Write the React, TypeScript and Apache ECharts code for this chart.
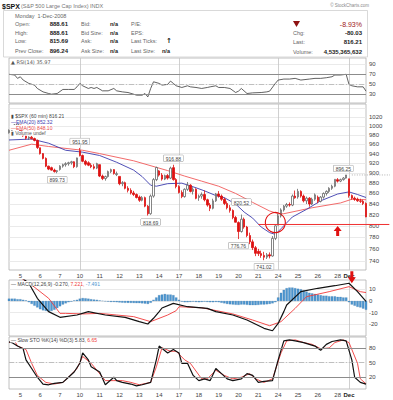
import React, { useEffect, useRef } from 'react';
import * as echarts from 'echarts';

const FONT = '"Liberation Sans", Arial, "DejaVu Sans", sans-serif';

// ---- x axis: 60-minute bars, 4 Nov 2008 (last hours) to 1 Dec 2008 ----
const dayLabels = ['5', '6', '7', '10', '11', '12', '13', '14', '17', '18', '19', '20', '21', '24', '25', '26', '28', 'Dec'];
const dayStarts = [4, 11, 18, 25, 32, 39, 46, 53, 60, 67, 74, 81, 88, 95, 102, 109, 116, 120];
const weekStarts = [25, 60, 95, 120];

// ---- price bars: [open, high, low, close] ----
const candles = [
  // Nov 4
  [985, 992, 983, 990], [990, 998, 988, 996], [996, 1004, 994, 1002], [1002, 1007.51, 1000, 1005.75],
  // Nov 5
  [1001.84, 1001.84, 985, 988], [988, 990, 976, 978], [978, 980, 970, 973], [973, 977, 969, 975], [975, 978, 970, 972], [972, 974, 966, 968], [968, 970, 949.86, 952.77],
  // Nov 6
  [952.4, 952.4, 938, 940], [940, 941, 928, 930], [930, 932, 912, 914], [914, 915, 906, 908], [911, 913, 905, 906], [906, 909, 901, 903], [903, 906, 899.73, 904.88],
  // Nov 7
  [907.44, 916, 905, 914], [914, 919, 911, 917], [917, 922, 913, 919], [919, 923, 915, 921], [921, 925, 917, 923], [923, 924, 910, 913], [913, 931.46, 911, 930.99],
  // Nov 10
  [946, 951.95, 934, 936], [936, 938, 922, 924], [924, 927, 915, 918], [921, 924, 914, 916], [916, 920, 910, 913], [913, 918, 907.19, 910], [910, 921, 908, 919.21],
  // Nov 11
  [917.15, 917.15, 892, 894], [894, 897, 886, 889], [889, 895, 884.9, 893], [893, 905, 891, 903], [903, 909, 900, 907], [907, 908, 897, 899], [897, 903, 894, 898.95],
  // Nov 12
  [893.39, 893.39, 876, 879], [879, 884, 874, 881], [881, 883, 868, 870], [870, 874, 862, 866], [866, 870, 858, 861], [861, 865, 855, 858], [858, 860, 850.48, 852.3],
  // Nov 13
  [853.13, 856, 844, 847], [847, 855, 845, 852], [852, 854, 834, 836], [836, 838, 818.69, 822], [822, 858, 820, 855], [855, 890, 852, 887], [887, 913.01, 884, 911.29],
  // Nov 14
  [904.36, 906, 893, 896], [896, 900, 885, 888], [888, 897, 886, 895], [895, 898, 887, 890], [890, 913, 888, 910], [911, 916.88, 885, 887], [887, 890, 869.88, 873.29],
  // Nov 17
  [873.23, 876, 860, 862], [862, 866, 851, 854], [854, 870, 852, 868], [868, 882.29, 865, 876], [876, 878, 862, 864], [864, 872, 858, 868], [868, 870, 848.98, 850.75],
  // Nov 18
  [852.34, 858, 846, 855], [855, 862, 850, 858], [858, 865.9, 845, 848], [848, 850, 835, 838], [838, 842, 826.84, 832], [832, 850, 830, 846], [846, 861, 844, 859.12],
  // Nov 19
  [859.03, 864.57, 852, 855], [855, 858, 846, 849], [849, 852, 838, 841], [841, 845, 830, 833], [833, 838, 824, 828], [828, 830, 812, 815], [815, 818, 806.18, 806.58],
  // Nov 20
  [805.87, 808, 776.76, 790], [790, 820.52, 788, 812], [812, 815, 795, 798], [798, 800, 780, 783], [783, 788, 768, 772], [772, 776, 758, 762], [762, 765, 747.78, 752.44],
  // Nov 21
  [755.84, 760, 748, 752], [752, 757, 745, 749], [749, 755, 741.02, 746], [746, 753, 743, 750], [750, 754, 744, 748], [748, 782, 747, 778], [778, 801.2, 775, 800.03],
  // Nov 24
  [801.2, 822, 801.2, 818], [818, 832, 815, 829], [829, 838, 826, 836], [836, 842, 833, 839], [839, 843, 835, 838], [838, 858, 836, 855], [855, 865.6, 850, 851.81],
  // Nov 25
  [853.4, 868.94, 850, 864], [864, 866, 852, 855], [855, 858, 843, 846], [846, 854, 840, 851], [851, 853, 834.99, 840], [840, 852, 838, 849], [849, 860, 846, 857.39],
  // Nov 26
  [852.9, 856, 841.37, 845], [845, 855, 843, 853], [853, 862, 850, 860], [860, 866, 856, 864], [864, 872, 861, 870], [870, 877, 867, 874], [874, 887.68, 872, 887.68],
  // Nov 28
  [886.89, 890, 881.21, 884], [884, 889, 882, 887], [887, 892, 885, 890], [890, 896.25, 889, 896.24],
  // Dec 1
  [888.61, 888.61, 852, 856], [856, 858, 848, 851], [851, 854, 846, 849], [849, 852, 844, 846], [846, 850, 842, 845], [845, 848, 838, 841], [841, 843, 815.69, 816.21],
];

// ---- moving averages [barIndex, value] ----
const ema20Points = [[0, 969], [8, 971], [14, 962], [20, 947], [26, 943], [32, 936], [38, 922], [44, 906], [47, 893], [50, 876], [52, 874], [56, 879], [61, 880], [66, 871], [69, 865], [73, 856], [76, 852], [80, 840], [83, 825], [86, 814], [89, 798], [92, 788], [94, 785], [96, 795], [100, 816], [105, 830], [110, 846], [116, 859], [120, 863], [123, 858], [126, 852.32]];
const ema50Points = [[0, 947], [8, 960], [14, 955], [26, 947], [32, 940], [44, 925], [56, 905], [62, 894], [68, 884], [74, 874], [80, 860], [86, 843], [92, 827], [95, 822], [97, 822], [107, 833], [117, 842], [121, 849], [126, 848.1]];

// ---- price annotations ----
const noteIdx = [17, 25, 50, 58, 82, 81, 90, 118];
const noteVal = [899.73, 951.95, 818.69, 916.88, 820.52, 776.76, 741.02, 896.25];
const noteSide = ['bottom', 'top', 'bottom', 'top', 'top', 'bottom', 'bottom', 'top'];

// ---- RSI(14) ----
const rsiPoints = [[0, 70], [2, 68.6], [3, 61.8], [4, 65], [5, 58.4], [7, 51.6], [9, 48.2], [10, 41.4], [12, 34.5], [14, 31.2], [15, 29.8], [17, 31.2], [19, 39.4], [21, 39.4], [23, 39.4], [24, 44.7], [25, 51.6], [26, 46.8], [28, 41.4], [29, 43.4], [30, 41.4], [31, 43.4], [33, 36.6], [35, 36.6], [37, 41.4], [38, 36.6], [40, 34.5], [42, 33.2], [44, 29.8], [45, 27.8], [47, 27.8], [48, 31.2], [49, 24.3], [50, 41.4], [51, 54.9], [53, 51.6], [54, 48.2], [56, 49.6], [57, 56.3], [58, 51.6], [59, 46.8], [61, 43.4], [63, 46.8], [64, 44.7], [66, 43.4], [68, 41.4], [70, 43.4], [71, 44.7], [73, 46.8], [74, 43.4], [76, 43.4], [78, 41.4], [80, 33.2], [81, 36], [82, 41.4], [84, 31.2], [86, 32.5], [89, 33.2], [91, 34.5], [92, 36], [94, 51.6], [95, 58.4], [97, 60.4], [99, 60.4], [101, 61.8], [103, 58.4], [106, 60.4], [108, 61.8], [110, 61.8], [112, 63.1], [114, 65.1], [115, 68.6], [117, 68.6], [119, 70], [120, 49.6], [121, 46.8], [123, 44.7], [125, 44.7], [126, 35.97]];

// ---- MACD(12,26,9) ----
const macdPoints = [[0, 24], [4, 21], [7, 15.2], [10, 2.3], [14, -9.1], [18, -14], [24, -12], [28, -9.1], [34, -12], [41, -14], [46, -17.7], [49, -19.7], [51, -14.8], [53, -9.1], [54, -6], [58, -2], [63, -4.9], [70, -6.3], [73, -9.1], [79, -12], [84, -16.3], [90, -23.4], [93, -25.5], [95, -19.2], [97, -9.1], [98, -3.4], [103, 8], [109, 10.9], [115, 13.1], [120, 15.2], [123, 8], [126, -0.27]];
const signalPoints = [[0, 22], [4, 20], [8, 13.7], [14, 2.3], [18, -10.6], [20, -10.6], [26, -11.1], [32, -10.6], [38, -12], [44, -13.4], [50, -17.7], [56, -12], [59, -8.3], [60, -4.9], [68, -5.8], [72, -7.7], [79, -11.1], [86, -16.3], [92, -21.2], [96, -17.7], [101, -6.3], [105, 3.7], [113, 8], [120, 12.3], [124, 8], [126, 7.221]];
const histValues = [
  2, 2, 2, 1.5, 1.5, 1, 0.5, -1,
  -2.5, -4, -5.5, -7, -8, -8.5, -9, -8.5, -7.5, -6, -4.5, -3, -2, -1, -0.5,
  0.5, 1, 2, 2.5, 2.3, 2, 1.5, 1.2, 1, 0.5, 0.2,
  -0.3, -0.5, -0.8, -0.8, -1, -1.2, -1.4, -1.5, -1.5, -1.6, -1.7, -1.8, -1.8, -2, -2.2, -2.5, -1.5,
  1, 3, 5, 5.5, 6, 5.5, 5.5, 5, 3,
  1, -0.5, -1, -1, -0.8, -0.5, -0.8, -1, -0.8, -0.5, -0.8, -1, -1, -0.8, -1, -1.5, -2, -2.5, -2.8, -3, -3.2,
  -3.3, -3, -3, -3.2, -3.5, -3.5, -3.5, -3.3, -3, -3, -2.8, -2.5, -2, -1,
  3, 7, 9.5, 11, 11.5, 11.5, 11, 10.5, 10, 9, 8, 7, 6.5, 6, 5.5, 5, 4.5, 4.5, 4, 4, 4, 3.5, 3.5, 3, 3,
  -1, -3, -4, -5, -5.5, -6.5, -7.491,
];

// ---- Slow Stochastic %K(14) %D(3) ----
const stoKPoints = [[0, 91.9], [1, 90.6], [3, 83.5], [5, 78], [6, 55.4], [8, 37.8], [10, 20], [12, 6.1], [14, 4.6], [16, 7.4], [19, 9.5], [21, 20], [23, 30.6], [25, 48.4], [26, 69.5], [28, 55.4], [29, 41.2], [32, 30.6], [34, 4.6], [37, 20], [38, 13.1], [40, 9.5], [43, 6.1], [45, 2.5], [47, 4.6], [50, 9.5], [52, 55.4], [53, 83.5], [56, 69.5], [58, 76.5], [60, 69.5], [61, 48.4], [63, 48.4], [65, 23.7], [67, 13.1], [69, 16.7], [71, 13.1], [73, 37.8], [75, 27.3], [77, 16.7], [79, 13.1], [82, 16.7], [84, 27.3], [86, 23.7], [88, 9.5], [90, 11.6], [93, 13.1], [95, 55.4], [97, 94], [99, 96.1], [101, 94], [104, 90.6], [106, 87], [108, 83.5], [110, 75], [112, 87], [114, 92.8], [117, 96.1], [119, 94], [121, 55.4], [122, 20], [124, 9.5], [126, 5.83]];
const stoDPoints = [[0, 90.6], [2, 94], [3, 83.5], [6, 76.5], [8, 48.4], [10, 23.7], [13, 9.5], [16, 6.1], [19, 9.5], [21, 20], [24, 37.8], [26, 62.3], [29, 48.4], [31, 34.2], [34, 13.1], [37, 13.1], [40, 13.1], [43, 9.5], [46, 4.6], [50, 9.5], [52, 41.2], [54, 80], [57, 72.9], [59, 72.9], [62, 55.4], [64, 48.4], [68, 16.7], [70, 16.7], [73, 34.2], [76, 23.7], [79, 16.7], [82, 20], [85, 27.3], [87, 16.7], [90, 9.5], [93, 16.7], [96, 69.5], [98, 94], [101, 96.1], [104, 90.6], [107, 87], [110, 78], [113, 79.7], [115, 90.6], [118, 96.1], [120, 90.6], [123, 48.4], [124, 16.7], [126, 6.65]];

// ---- axis ticks ----
const priceTicks = [740, 760, 780, 800, 820, 840, 860, 880, 900, 920, 940, 960, 980, 1000, 1020, 1040];
const rsiTicks = [30, 50, 70, 90];
const macdTicks = [-20, -10, 0, 10];
const stoTicks = [20, 50, 80];

const BAR_COUNT = candles.length;
const cats = Array.from({ length: BAR_COUNT }, (_, i) => String(i));
const ln = Math.log;

function xAxisFor(g: number, showLabels: boolean) {
  return {
    type: 'category', gridIndex: g, data: cats, boundaryGap: false,
    axisLine: { show: false }, axisTick: { show: false },
    axisLabel: {
      show: showLabels,
      interval: (idx: number) => dayStarts.includes(idx),
      formatter: (v: string) => {
        const k = dayStarts.indexOf(Number(v));
        if (k < 0) return '';
        const s = dayLabels[k];
        return s === 'Dec' ? '{b|Dec}' : s;
      },
      fontSize: 6, color: '#444', margin: 3, fontFamily: FONT,
      rich: { b: { fontWeight: 'bold', fontSize: 6, color: '#222', fontFamily: FONT } },
    },
    splitLine: { show: true, interval: (idx: number) => weekStarts.includes(idx), lineStyle: { color: '#c4c4c4', width: 0.8 } },
  };
}

function yAxisFor(g: number, min: number, max: number, ticks: number[], fmt?: (v: number) => string) {
  return {
    type: 'value', gridIndex: g, position: 'right', min, max, scale: true,
    axisLine: { show: false },
    axisTick: { show: false, customValues: ticks },
    axisLabel: { customValues: ticks, fontSize: 6, color: '#444', margin: 3, fontFamily: FONT, formatter: fmt },
    splitLine: { show: true, lineStyle: { color: '#e4e4e4', width: 0.8 } },
  };
}

function buildOption() {
  const gridBase = { left: 9, right: 27, show: true, borderColor: '#b0b0b0', borderWidth: 0.8, backgroundColor: '#fff' };
  const levelLines = (hi: number, mid: number, lo: number) => ({
    silent: true, symbol: ['none', 'none'], label: { show: false }, animation: false,
    data: [
      { yAxis: hi, lineStyle: { color: '#8c8c8c', width: 1, type: 'solid' } },
      { yAxis: lo, lineStyle: { color: '#8c8c8c', width: 1, type: 'solid' } },
      { yAxis: mid, lineStyle: { color: '#b4b4b4', width: 0.8, type: [5, 2, 1, 2] } },
    ],
  });
  const pts = (arr: number[][]) => arr.map(([i, v]) => [i, v]);
  return {
    animation: false,
    backgroundColor: '#fff',
    grid: [
      { ...gridBase, top: 58, height: 45 },
      { ...gridBase, top: 104, height: 166 },
      { ...gridBase, top: 280, height: 56 },
      { ...gridBase, top: 337, height: 52 },
    ],
    xAxis: [xAxisFor(0, false), xAxisFor(1, true), xAxisFor(2, false), xAxisFor(3, true)],
    yAxis: [
      yAxisFor(0, 12, 103, rsiTicks),
      yAxisFor(1, ln(725), ln(1050), priceTicks.map(ln), (v: number) => {
        const p = Math.round(Math.exp(v));
        return p === 1040 ? '' : String(p);
      }),
      yAxisFor(2, -30, 18, macdTicks),
      yAxisFor(3, -4, 102, stoTicks),
    ],
    series: [
      {
        name: 'RSI', type: 'line', xAxisIndex: 0, yAxisIndex: 0, data: pts(rsiPoints), symbol: 'none',
        lineStyle: { color: '#3a3a3a', width: 0.8 }, z: 3, markLine: levelLines(70, 50, 30),
      },
      {
        name: 'EMA50', type: 'line', xAxisIndex: 1, yAxisIndex: 1, data: ema50Points.map(([i, v]) => [i, ln(v)]),
        symbol: 'none', lineStyle: { color: '#f05a5a', width: 0.9 }, z: 2,
      },
      {
        name: 'EMA20', type: 'line', xAxisIndex: 1, yAxisIndex: 1, data: ema20Points.map(([i, v]) => [i, ln(v)]),
        symbol: 'none', lineStyle: { color: '#3c3cae', width: 0.9 }, z: 2,
      },
      {
        name: '$SPX', type: 'candlestick', xAxisIndex: 1, yAxisIndex: 1, barWidth: 2, z: 3,
        data: candles.map(([o, h, l, c]) => [ln(o), ln(c), ln(l), ln(h)]),
        itemStyle: { color: '#ffffff', color0: '#dd1010', borderColor: '#666666', borderColor0: '#dd1010', borderWidth: 0.8 },
        markPoint: {
          symbol: 'rect', symbolSize: 1, silent: true, itemStyle: { color: 'rgba(0,0,0,0)' },
          data: noteIdx.map((idx, k) => ({
            coord: [idx, ln(noteVal[k])],
            value: noteVal[k],
            label: {
              show: true, position: noteSide[k], distance: noteVal[k] === 820.52 ? 9 : 3,
              formatter: noteVal[k].toFixed(2), fontSize: 5, color: '#444', fontFamily: FONT,
              backgroundColor: '#fff', borderColor: '#9a9a9a', borderWidth: 0.5, padding: [1, 2, 0, 2],
            },
          })),
        },
      },
      {
        name: 'Hist', type: 'bar', xAxisIndex: 2, yAxisIndex: 2, data: histValues, barWidth: 2.3,
        itemStyle: { color: '#4d96d0', borderColor: '#2c6d9f', borderWidth: 0.2 }, z: 2,
      },
      {
        name: 'Signal', type: 'line', xAxisIndex: 2, yAxisIndex: 2, data: pts(signalPoints), symbol: 'none',
        lineStyle: { color: '#f03a3a', width: 0.9 }, z: 3,
      },
      {
        name: 'MACD', type: 'line', xAxisIndex: 2, yAxisIndex: 2, data: pts(macdPoints), symbol: 'none',
        lineStyle: { color: '#111', width: 1.2 }, z: 4,
      },
      {
        name: '%D', type: 'line', xAxisIndex: 3, yAxisIndex: 3, data: pts(stoDPoints), symbol: 'none',
        lineStyle: { color: '#f03a3a', width: 0.9 }, z: 3, markLine: levelLines(80, 50, 20),
      },
      {
        name: '%K', type: 'line', xAxisIndex: 3, yAxisIndex: 3, data: pts(stoKPoints), symbol: 'none',
        lineStyle: { color: '#111', width: 1.2 }, z: 4,
      },
    ],
  };
}

function txt(x: number, y: number, text: string, o: any = {}) {
  const align = o.align || 'left';
  const style: any = {
    x, y, text, fill: o.fill || '#666',
    font: `${o.bold ? 'bold ' : ''}${o.size || 6}px ${o.family || FONT}`,
    align, textAlign: align, verticalAlign: 'middle', textVerticalAlign: 'middle',
  };
  if (o.bg) { style.backgroundColor = o.bg; style.padding = [0, 1]; }
  if (o.rich) style.rich = o.rich;
  return { type: 'text', silent: true, z: 100, style };
}

function buildGraphics(chart: any) {
  const px = (g: number, i: number, v: number) => chart.convertToPixel({ gridIndex: g }, [i, v]);
  const g: any[] = [];
  // header
  g.push(txt(2, 6, '$SPX', { bold: true, size: 7, fill: '#111' }));
  g.push(txt(21, 6, '(S&P 500 Large Cap Index) INDX', { size: 5.5, fill: '#777' }));
  g.push(txt(369, 5, '© StockCharts.com', { size: 4.5, fill: '#888', align: 'right' }));
  g.push({ type: 'rect', silent: true, z: 90, shape: { x: 3.5, y: 10.5, width: 364, height: 46.5 }, style: { fill: 'none', stroke: '#cfcfcf', lineWidth: 0.8 } });
  g.push(txt(15, 15.5, 'Monday  1-Dec-2008', { size: 5.5, fill: '#666' }));
  const rows = [24.3, 32.6, 41, 50.5];
  const c1 = ['Open:', 'High:', 'Low:', 'Prev Close:'];
  const v1 = ['888.61', '888.61', '815.69', '896.24'];
  const c2 = ['Bid:', 'Bid Size:', 'Ask:', 'Ask Size:'];
  const c3 = ['P/E:', 'EPS:', 'Last Ticks:', 'Last Size:'];
  rows.forEach((y, k) => {
    g.push(txt(15, y, c1[k], { size: 5.5 }));
    g.push(txt(68, y, v1[k], { size: 6, bold: true, fill: '#222', align: 'right' }));
    g.push(txt(81, y, c2[k], { size: 5.5 }));
    g.push(txt(110, y, 'n/a', { size: 5.5, bold: true, fill: '#222' }));
    g.push(txt(131, y, c3[k], { size: 5.5 }));
  });
  g.push(txt(166, 40.5, '↑', { size: 7, bold: true, fill: '#111', family: '"DejaVu Sans", sans-serif' }));
  g.push(txt(162, 50.5, 'n/a', { size: 5.5, bold: true, fill: '#222' }));
  g.push({ type: 'polygon', silent: true, z: 100, shape: { points: [[293, 21], [300, 21], [296.5, 27]] }, style: { fill: '#8e1212' } });
  g.push(txt(362, 24.3, '-8.93%', { size: 7, fill: '#a01818', align: 'right' }));
  g.push(txt(293, 33.3, 'Chg:', { size: 5.5 }));
  g.push(txt(362, 33.3, '-80.03', { size: 6, bold: true, fill: '#222', align: 'right' }));
  g.push(txt(293, 42.3, 'Last:', { size: 5.5 }));
  g.push(txt(362, 42.3, '816.21', { size: 6, bold: true, fill: '#222', align: 'right' }));
  g.push(txt(293, 51.6, 'Volume:', { size: 5.5 }));
  g.push(txt(362, 51.6, '4,535,365,632', { size: 6, bold: true, fill: '#222', align: 'right' }));

  // panel legends
  g.push(txt(10, 61.5, '▲ RSI(14) 35.97', { size: 5, fill: '#555', family: '"DejaVu Sans", sans-serif', bg: '#fff' }));
  g.push(txt(10, 115.5, '▮ $SPX (60 min) 816.21', { size: 5, fill: '#444', bg: '#fff' }));
  g.push(txt(10, 121.5, '—EMA(20) 852.32', { size: 5, fill: '#3c3cae', bg: '#fff' }));
  g.push(txt(10, 127.5, '—EMA(50) 848.10', { size: 5, fill: '#e84848', bg: '#fff' }));
  g.push(txt(10, 133.3, '▮ Volume undef', { size: 5, fill: '#555', bg: '#fff' }));
  g.push(txt(10, 283.5, '{k|— MACD(12,26,9) -0.270,} {r|7.221,} {b|-7.491}', {
    size: 5, fill: '#444', bg: '#fff',
    rich: { k: { fill: '#444', fontSize: 5, fontFamily: FONT }, r: { fill: '#f03a3a', fontSize: 5, fontFamily: FONT }, b: { fill: '#4d96d0', fontSize: 5, fontFamily: FONT } },
  }));
  g.push(txt(10, 340, '{k|— Slow STO %K(14) %D(3) 5.83,} {r|6.65}', {
    size: 5, fill: '#444', bg: '#fff',
    rich: { k: { fill: '#444', fontSize: 5, fontFamily: FONT }, r: { fill: '#f03a3a', fontSize: 5, fontFamily: FONT } },
  }));

  // hand-drawn annotations
  const circ = px(1, 94, ln(806));
  g.push({ type: 'circle', silent: true, z: 101, shape: { cx: circ[0], cy: circ[1], r: 10 }, style: { fill: 'none', stroke: '#e01010', lineWidth: 1.1 } });
  const ls = px(1, 88, ln(802.5));
  g.push({ type: 'line', silent: true, z: 101, shape: { x1: ls[0], y1: ls[1], x2: ls[0] + 131, y2: ls[1] }, style: { stroke: '#f03030', lineWidth: 1 } });
  const au = px(1, 116, ln(802.5));
  const ax = au[0], ay = au[1] + 1.5;
  g.push({ type: 'polygon', silent: true, z: 101, shape: { points: [[ax, ay], [ax - 4, ay + 5], [ax - 1.5, ay + 5], [ax - 1.5, ay + 10], [ax + 1.5, ay + 10], [ax + 1.5, ay + 5], [ax + 4, ay + 5]] }, style: { fill: '#e01010' } });
  const ad = px(2, 121, 15.2);
  const dx = ad[0], dy = ad[1];
  g.push({ type: 'polygon', silent: true, z: 101, shape: { points: [[dx, dy], [dx - 4, dy - 6], [dx - 1.5, dy - 6], [dx - 1.5, dy - 12], [dx + 1.5, dy - 12], [dx + 1.5, dy - 6], [dx + 4, dy - 6]] }, style: { fill: '#e01010' } });
  const dl = px(1, 121, ln(896.25));
  g.push({ type: 'line', silent: true, z: 101, shape: { x1: dl[0], y1: dl[1], x2: 390, y2: dl[1] }, style: { stroke: '#9a9a9a', lineWidth: 0.8, lineDash: [1, 1.5] } });
  return g;
}

export default function App() {
  const ref = useRef<HTMLDivElement>(null);
  useEffect(() => {
    if (!ref.current) return;
    const chart = echarts.init(ref.current, null, { renderer: 'svg' });
    chart.setOption(buildOption());
    chart.setOption({ graphic: buildGraphics(chart) });
    return () => chart.dispose();
  }, []);
  return <div ref={ref} style={{ position: 'absolute', left: 0, top: 0, width: 393, height: 400 }} />;
}
